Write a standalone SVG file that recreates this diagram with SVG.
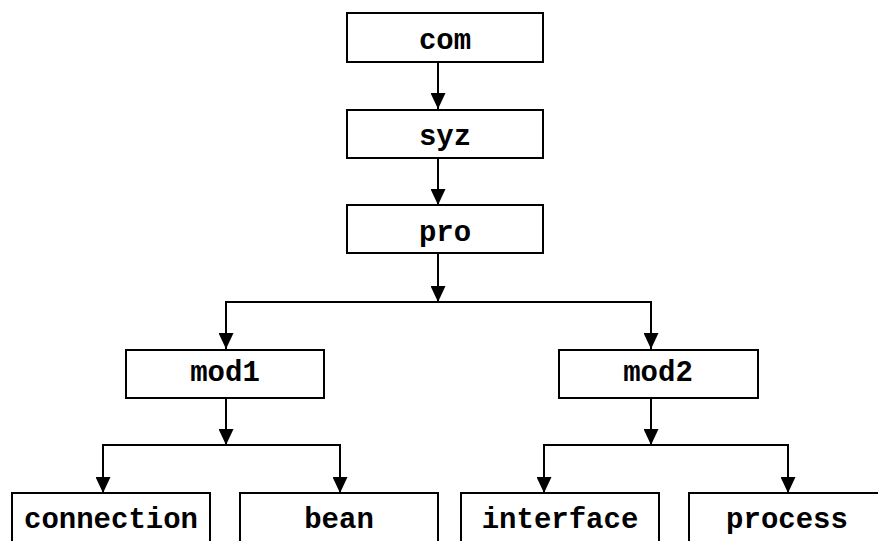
<svg xmlns="http://www.w3.org/2000/svg" width="878" height="541" viewBox="0 0 878 541">
<style>
.box{fill:#fff;stroke:#000;stroke-width:2}
.lbl{font-family:"Liberation Mono","Courier New",monospace;font-weight:bold;font-size:29px;fill:#000;text-anchor:middle}
.ln{fill:none;stroke:#000;stroke-width:2}
</style>
<defs>
<marker id="ah" viewBox="0 0 16 15" refX="16" refY="7.5" markerWidth="16" markerHeight="15" orient="auto" markerUnits="userSpaceOnUse">
<path d="M0,0 L16,7.5 L0,15 z" fill="#000"/>
</marker>
</defs>
<rect width="878" height="541" fill="#fff"/>
<g id="connectors">
<line class="ln" x1="438" y1="62" x2="438" y2="109" marker-end="url(#ah)"/>
<line class="ln" x1="438" y1="158" x2="438" y2="205" marker-end="url(#ah)"/>
<line class="ln" x1="438" y1="253" x2="438" y2="302" marker-end="url(#ah)"/>
<polyline class="ln" points="226,348 226,302 651,302 651,348"/>
<line class="ln" x1="226" y1="330" x2="226" y2="349" marker-end="url(#ah)"/>
<line class="ln" x1="651" y1="330" x2="651" y2="349" marker-end="url(#ah)"/>
<line class="ln" x1="226" y1="398" x2="226" y2="445" marker-end="url(#ah)"/>
<polyline class="ln" points="103,493 103,445 340,445 340,493"/>
<line class="ln" x1="103" y1="475" x2="103" y2="493" marker-end="url(#ah)"/>
<line class="ln" x1="340" y1="475" x2="340" y2="493" marker-end="url(#ah)"/>
<line class="ln" x1="651" y1="398" x2="651" y2="445" marker-end="url(#ah)"/>
<polyline class="ln" points="544,493 544,445 788,445 788,493"/>
<line class="ln" x1="544" y1="475" x2="544" y2="493" marker-end="url(#ah)"/>
<line class="ln" x1="788" y1="475" x2="788" y2="493" marker-end="url(#ah)"/>
</g>
<g id="com"><rect class="box" x="347" y="13" width="196" height="49"/><text class="lbl" x="445" y="49">com</text></g>
<g id="syz"><rect class="box" x="347" y="110" width="196" height="48"/><text class="lbl" x="445" y="145">syz</text></g>
<g id="pro"><rect class="box" x="347" y="205" width="196" height="48"/><text class="lbl" x="445" y="241">pro</text></g>
<g id="mod1"><rect class="box" x="126" y="350" width="198" height="48"/><text class="lbl" x="225" y="381">mod1</text></g>
<g id="mod2"><rect class="box" x="559" y="350" width="199" height="48"/><text class="lbl" x="658" y="381">mod2</text></g>
<g id="connection"><rect class="box" x="12" y="493" width="198" height="60"/><text class="lbl" x="111" y="528">connection</text></g>
<g id="bean"><rect class="box" x="240" y="493" width="198" height="60"/><text class="lbl" x="339" y="528">bean</text></g>
<g id="interface"><rect class="box" x="461" y="493" width="198" height="60"/><text class="lbl" x="560" y="528">interface</text></g>
<g id="process"><rect class="box" x="689" y="493" width="198" height="60"/><text class="lbl" x="787" y="528">process</text></g>
</svg>
